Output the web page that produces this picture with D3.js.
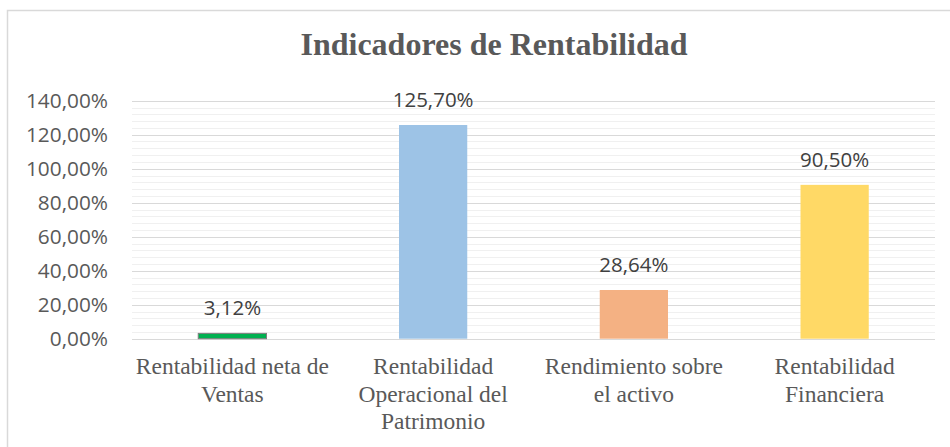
<!DOCTYPE html>
<html>
<head>
<meta charset="utf-8">
<script src="https://cdn.jsdelivr.net/npm/d3@7"></script>
<style>
  body { margin: 0; background: #fff; }
  svg { display: block; }
</style>
</head>
<body>
<div id="chart"></div>
<script>
const categories = [
    "Rentabilidad neta de\nVentas",
    "Rentabilidad\nOperacional del\nPatrimonio",
    "Rendimiento sobre\nel activo",
    "Rentabilidad\nFinanciera"
];
const values = [3.12, 125.70, 28.64, 90.50];
const barColors = ["#00B050", "#9DC3E6", "#F4B183", "#FFD966"];
const yTicks = [0, 20, 40, 60, 80, 100, 120, 140];
const minorTicks = d3.range(0, 141, 4);
const title = "Indicadores de Rentabilidad";

const width = 950;
const height = 447;
const margin = {top: 100.7, right: 15, bottom: 108.3, left: 132};

const fmt = v => v.toFixed(2).replace(".", ",") + "%";

const svg = d3.select("#chart").append("svg")
    .attr("width", width)
    .attr("height", height);

// chart area border
svg.append("rect")
    .attr("x", 7.5).attr("y", 10.5)
    .attr("width", 980).attr("height", 460)
    .attr("fill", "#fff")
    .attr("stroke", "#d9d9d9")
    .attr("stroke-width", 1.5);

svg.append("text")
    .attr("x", 494).attr("y", 55)
    .attr("text-anchor", "middle")
    .attr("font-family", "Liberation Serif, Times New Roman, serif")
    .attr("font-weight", "bold")
    .attr("font-size", 32)
    .attr("fill", "#595959")
    .text(title);

const x = d3.scaleBand()
    .domain(categories)
    .range([margin.left, width - margin.right])
    .paddingInner(0.66)
    .paddingOuter(0.33);

const y = d3.scaleLinear()
    .domain([0, 140])
    .range([height - margin.bottom, margin.top]);

// minor gridlines
svg.append("g")
    .selectAll("line")
    .data(minorTicks.filter(t => t % 20 !== 0))
    .enter().append("line")
    .attr("x1", margin.left).attr("x2", width - margin.right)
    .attr("y1", d => Math.round(y(d)) + 0.5).attr("y2", d => Math.round(y(d)) + 0.5)
    .attr("stroke", "#f0f0f0")
    .attr("stroke-width", 1.2);

// major gridlines
svg.append("g")
    .selectAll("line")
    .data(yTicks)
    .enter().append("line")
    .attr("x1", margin.left).attr("x2", width - margin.right)
    .attr("y1", d => Math.round(y(d)) + 0.5).attr("y2", d => Math.round(y(d)) + 0.5)
    .attr("stroke", "#d9d9d9")
    .attr("stroke-width", 1.2);

// y axis labels
const yAxis = svg.append("g")
    .attr("transform", "translate(" + (margin.left - 24) + ",0)")
    .call(d3.axisLeft(y).tickValues(yTicks).tickSize(0).tickPadding(0).tickFormat(fmt));
yAxis.select(".domain").remove();
yAxis.selectAll("text")
    .attr("font-family", "Open Sans, Liberation Sans, sans-serif")
    .attr("font-size", 20.8)
    .attr("fill", "#595959");

// bars
svg.append("g")
    .selectAll("rect")
    .data(values)
    .enter().append("rect")
    .attr("x", (d, i) => x(categories[i]))
    .attr("width", x.bandwidth())
    .attr("y", d => y(d))
    .attr("height", d => y(0) - y(d))
    .attr("fill", (d, i) => barColors[i])
    .attr("stroke", (d, i) => i === 0 ? "#7f7f7f" : "none")
    .attr("stroke-width", 1);

// data labels
svg.append("g")
    .selectAll("text")
    .data(values)
    .enter().append("text")
    .attr("x", (d, i) => x(categories[i]) + x.bandwidth() / 2)
    .attr("y", d => y(d) - 18)
    .attr("text-anchor", "middle")
    .attr("font-family", "Open Sans, Liberation Sans, sans-serif")
    .attr("font-size", 20.5)
    .attr("fill", "#404040")
    .text(fmt);

// category labels
const catLabels = svg.append("g")
    .selectAll("text")
    .data(categories)
    .enter().append("text")
    .attr("x", d => x(d) + x.bandwidth() / 2)
    .attr("y", 374)
    .attr("text-anchor", "middle")
    .attr("font-family", "Liberation Serif, Times New Roman, serif")
    .attr("font-size", 23.5)
    .attr("fill", "#595959");
catLabels.selectAll("tspan")
    .data(d => d.split("\n"))
    .enter().append("tspan")
    .attr("x", function () { return this.parentNode.getAttribute("x"); })
    .attr("dy", (d, i) => i === 0 ? 0 : 27.5)
    .text(d => d);
</script>
</body>
</html>
